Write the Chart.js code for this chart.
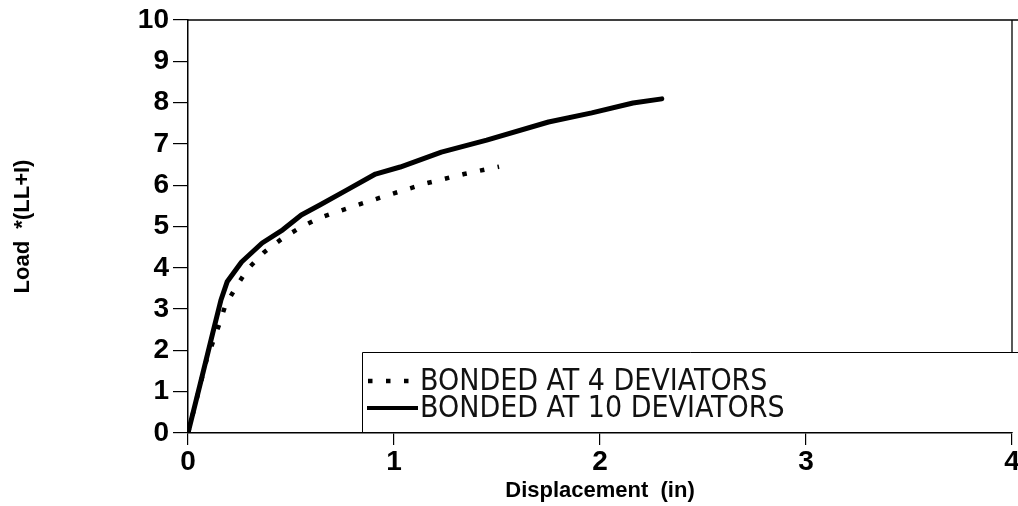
<!DOCTYPE html>
<html>
<head>
<meta charset="UTF-8">
<title>Load vs Displacement</title>
<script src="https://cdn.jsdelivr.net/npm/chart.js"></script>
<style>
  html, body { margin: 0; padding: 0; background: #fff; }
  #wrap { width: 1018px; height: 506px; position: relative; }
</style>
</head>
<body>
<div id="wrap"><canvas id="loadChart"></canvas></div>
<script>
// values (displacement in, load *(LL+I))
const bonded4X = [0, 0.09, 0.15, 0.18, 0.23, 0.29, 0.37, 0.46, 0.55, 0.64, 0.81, 0.99, 1.16, 1.34, 1.51];
const bonded4Y = [0, 1.77, 2.61, 3.07, 3.51, 3.97, 4.38, 4.72, 4.99, 5.21, 5.50, 5.79, 6.05, 6.27, 6.45];
const bonded10X = [0, 0.06, 0.12, 0.16, 0.19, 0.26, 0.36, 0.46, 0.55, 0.64, 0.77, 0.91, 1.03, 1.23, 1.45, 1.75, 1.96, 2.16, 2.30];
const bonded10Y = [0, 1.20, 2.42, 3.22, 3.66, 4.14, 4.60, 4.92, 5.28, 5.52, 5.88, 6.27, 6.44, 6.80, 7.09, 7.53, 7.75, 7.99, 8.09];
const seriesLabels = ['BONDED AT 4 DEVIATORS', 'BONDED AT 10 DEVIATORS'];
const xTicks = [0, 1, 2, 3, 4];
const yTicks = [0, 1, 2, 3, 4, 5, 6, 7, 8, 9, 10];

const pts = (xs, ys) => xs.map((x, i) => ({ x: x, y: ys[i] }));

const tickFont = { family: '"Liberation Sans Narrow", "Liberation Sans", Arial, sans-serif', size: 28, weight: 'bold' };
const titleFont = { family: '"Liberation Sans", Arial, sans-serif', size: 22, weight: 'bold' };

// frame on top/right + legend box drawn inside the plot
const framePlugin = {
  id: 'frame',
  afterDraw(chart) {
    const { ctx, chartArea: a } = chart;
    ctx.save();
    ctx.strokeStyle = '#000';
    ctx.lineWidth = 1.3;
    ctx.beginPath();
    ctx.moveTo(a.left, a.top);
    ctx.lineTo(chart.width, a.top);
    ctx.moveTo(a.right, a.top);
    ctx.lineTo(a.right, a.bottom);
    ctx.stroke();

    // legend
    const bx = 362, by = 352;
    ctx.fillStyle = '#fff';
    ctx.fillRect(bx, by, chart.width - bx, a.bottom - by - 1);
    ctx.lineWidth = 1;
    ctx.beginPath();
    ctx.moveTo(bx + 0.5, a.bottom);
    ctx.lineTo(bx + 0.5, by + 0.5);
    ctx.lineTo(chart.width, by + 0.5);
    ctx.stroke();

    const rows = [381, 408];
    chart.data.datasets.forEach((ds, i) => {
      const y = rows[i];
      ctx.beginPath();
      ctx.lineWidth = ds.borderDash ? 4.5 : 4;
      ctx.setLineDash(ds.borderDash || []);
      ctx.lineCap = 'butt';
      ctx.moveTo(ds.borderDash ? 368 : 367, y);
      ctx.lineTo(418, y);
      ctx.stroke();
      ctx.setLineDash([]);
      ctx.fillStyle = '#111';
      ctx.font = '30px "Liberation Sans Narrow", "DejaVu Sans Condensed", sans-serif';
      ctx.textBaseline = 'middle';
      ctx.textAlign = 'left';
      ctx.fillText(ds.label, 420, y + 1);
    });
    ctx.restore();
  }
};

new Chart(document.getElementById('loadChart'), {
  type: 'line',
  data: {
    datasets: [
      {
        label: seriesLabels[0],
        data: pts(bonded4X, bonded4Y),
        borderColor: '#000',
        borderWidth: 4.5,
        borderDash: [4.5, 13.5],
        pointRadius: 0,
        tension: 0
      },
      {
        label: seriesLabels[1],
        data: pts(bonded10X, bonded10Y),
        borderColor: '#000',
        borderWidth: 5,
        pointRadius: 0,
        tension: 0,
        borderJoinStyle: 'round',
        borderCapStyle: 'round'
      }
    ]
  },
  options: {
    responsive: true,
    maintainAspectRatio: false,
    animation: false,
    layout: { padding: { top: 20, right: 6, left: 0, bottom: 0 } },
    plugins: { legend: { display: false }, tooltip: { enabled: false } },
    scales: {
      x: {
        type: 'linear',
        min: 0,
        max: 4,
        afterBuildTicks: s => { s.ticks = xTicks.map(v => ({ value: v })); },
        afterFit: s => { s.height = 73; s.paddingLeft = 0; s.paddingRight = 0; },
        border: { color: '#000', width: 1.5 },
        grid: { drawOnChartArea: false, drawTicks: true, tickLength: 12, color: '#000', lineWidth: 1.2 },
        ticks: { color: '#000', font: tickFont, padding: 0, maxRotation: 0 },
        title: { display: true, text: 'Displacement  (in)', color: '#000', font: titleFont, padding: { top: 0, bottom: 2 } }
      },
      y: {
        type: 'linear',
        min: 0,
        max: 10,
        afterBuildTicks: s => { s.ticks = yTicks.map(v => ({ value: v })); },
        afterFit: s => { s.width = 188; s.paddingTop = 0; s.paddingBottom = 0; },
        border: { color: '#000', width: 1.5 },
        grid: { drawOnChartArea: false, drawTicks: true, tickLength: 15, color: '#000', lineWidth: 1.2 },
        ticks: { color: '#000', font: tickFont, padding: 4 },
        title: { display: true, text: 'Load  *(LL+I)', color: '#000', font: titleFont, padding: { top: 10, bottom: 0 } }
      }
    }
  },
  plugins: [framePlugin]
});
</script>
</body>
</html>
